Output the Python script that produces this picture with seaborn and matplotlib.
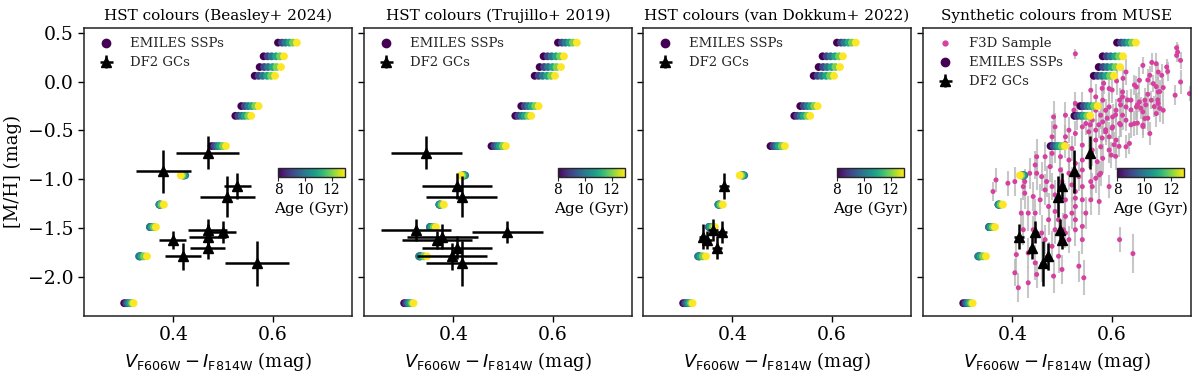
import numpy as np
import pandas as pd
import matplotlib
matplotlib.use("Agg")
import matplotlib.pyplot as plt
import seaborn as sns
from matplotlib.lines import Line2D
from matplotlib.colors import Normalize
from matplotlib.cm import ScalarMappable

sns.set_style("ticks")
plt.rcParams["font.family"] = ["DejaVu Serif"]
plt.rcParams["mathtext.fontset"] = "dejavusans"

# ---------------- data ----------------
panel_titles = ["HST colours (Beasley+ 2024)", "HST colours (Trujillo+ 2019)",
                "HST colours (van Dokkum+ 2022)", "Synthetic colours from MUSE"]

ssp_ages = [8, 9, 10, 11, 12, 13]
ssp_mh = [0.40, 0.26, 0.15, 0.06, -0.25, -0.35, -0.66, -0.96, -1.26, -1.49, -1.79, -2.27]
ssp_colour = [
    [0.611, 0.619, 0.626, 0.634, 0.641, 0.649],
    [0.582, 0.590, 0.598, 0.607, 0.615, 0.623],
    [0.574, 0.583, 0.591, 0.600, 0.608, 0.617],
    [0.564, 0.572, 0.580, 0.589, 0.597, 0.605],
    [0.537, 0.544, 0.551, 0.558, 0.565, 0.572],
    [0.525, 0.531, 0.538, 0.544, 0.551, 0.557],
    [0.477, 0.483, 0.489, 0.494, 0.500, 0.506],
    [0.420, 0.422, 0.424, 0.421, 0.418, 0.415],
    [0.373, 0.372, 0.372, 0.374, 0.377, 0.381],
    [0.354, 0.353, 0.353, 0.357, 0.361, 0.365],
    [0.333, 0.332, 0.331, 0.336, 0.341, 0.347],
    [0.301, 0.305, 0.309, 0.313, 0.317, 0.320],
]

gc_mh = [-0.73, -0.92, -1.07, -1.18, -1.52, -1.54, -1.59, -1.62, -1.70, -1.79, -1.86]
gc_mh_err = [0.17, 0.22, 0.13, 0.21, 0.11, 0.11, 0.13, 0.09, 0.12, 0.14, 0.23]

nan = np.nan
beasley_col = [0.469, 0.380, 0.529, 0.509, 0.469, 0.500, 0.469, 0.399, 0.469, 0.420, 0.569]
beasley_err = [0.064, 0.056, 0.027, 0.056, 0.039, 0.027, 0.037, 0.027, 0.036, 0.036, 0.064]
trujillo_col = [0.346, nan, 0.407, 0.417, 0.325, 0.509, 0.378, 0.367, 0.407, 0.397, 0.417]
trujillo_err = [0.071, nan, 0.071, 0.071, 0.071, 0.071, 0.071, 0.071, 0.071, 0.071, 0.071]
vandokkum_col = [nan, nan, 0.384, nan, 0.361, 0.380, 0.342, 0.350, 0.369, nan, nan]
vandokkum_err = [nan, nan, 0.010, nan, 0.010, 0.010, 0.010, 0.010, 0.010, nan, nan]
muse_col = [0.557, 0.525, 0.501, 0.492, 0.497, 0.446, 0.414, 0.500, 0.439, 0.471, 0.461]
muse_err = [0.005, 0.005, 0.005, 0.005, 0.005, 0.005, 0.010, 0.005, 0.005, 0.005, 0.005]

f3d_col = [
    0.527, 0.731, 0.733, 0.731, 0.739, 0.711, 0.713, 0.739, 0.728, 0.757,
    0.690, 0.663, 0.629, 0.677, 0.694, 0.701, 0.656, 0.684, 0.650, 0.595,
    0.622, 0.704, 0.694, 0.673, 0.667, 0.680, 0.694, 0.704, 0.656, 0.639,
    0.629, 0.650, 0.663, 0.622, 0.609, 0.595, 0.582, 0.568, 0.558, 0.622,
    0.616, 0.588, 0.578, 0.568, 0.541, 0.527, 0.524, 0.602, 0.582, 0.561,
    0.548, 0.541, 0.514, 0.483, 0.486, 0.507, 0.527, 0.554, 0.568, 0.588,
    0.602, 0.616, 0.629, 0.646, 0.663, 0.677, 0.690, 0.667, 0.609, 0.595,
    0.568, 0.578, 0.582, 0.599, 0.629, 0.636, 0.561, 0.541, 0.520, 0.507,
    0.486, 0.480, 0.497, 0.514, 0.527, 0.541, 0.554, 0.571, 0.595, 0.541,
    0.534, 0.514, 0.497, 0.476, 0.466, 0.449, 0.446, 0.435, 0.425, 0.405,
    0.422, 0.449, 0.459, 0.469, 0.480, 0.500, 0.520, 0.527, 0.541, 0.558,
    0.568, 0.575, 0.558, 0.575, 0.595, 0.466, 0.486, 0.507, 0.527, 0.541,
    0.520, 0.507, 0.486, 0.473, 0.456, 0.442, 0.432, 0.446, 0.473, 0.493,
    0.507, 0.527, 0.514, 0.480, 0.466, 0.459, 0.442, 0.422, 0.418, 0.391,
    0.367, 0.361, 0.425, 0.493, 0.473, 0.459, 0.446, 0.432, 0.408, 0.405,
    0.412, 0.432, 0.449, 0.483, 0.500, 0.534, 0.544, 0.541, 0.616, 0.643,
    0.541, 0.527, 0.503, 0.486, 0.548, 0.561, 0.578, 0.527, 0.507, 0.480,
    0.531, 0.681, 0.623, 0.610, 0.584, 0.601, 0.581, 0.646, 0.673, 0.690,
    0.697, 0.693, 0.697, 0.686, 0.669, 0.652, 0.632, 0.618, 0.608, 0.639,
    0.659, 0.673, 0.652, 0.639, 0.618, 0.601, 0.591, 0.574, 0.588, 0.581,
    0.605, 0.615, 0.608, 0.557, 0.663,
]
f3d_mh = [
    0.286, 0.347, 0.303, 0.269, 0.218, 0.150, 0.105, -0.003, -0.139, -0.122,
    0.184, 0.167, 0.099, 0.065, 0.099, 0.065, 0.014, -0.020, -0.054, -0.071,
    -0.105, -0.061, -0.105, -0.129, -0.190, -0.190, -0.224, -0.293, -0.207, -0.190,
    -0.259, -0.259, -0.310, -0.344, -0.293, -0.259, -0.190, -0.156, -0.088, -0.156,
    -0.190, -0.293, -0.344, -0.293, -0.259, -0.224, -0.293, -0.361, -0.412, -0.395,
    -0.429, -0.463, -0.497, -0.361, -0.463, -0.565, -0.531, -0.514, -0.497, -0.514,
    -0.463, -0.429, -0.395, -0.429, -0.446, -0.531, -0.327, -0.378, -0.599, -0.565,
    -0.599, -0.667, -0.786, -0.752, -0.667, -0.633, -0.701, -0.650, -0.684, -0.633,
    -0.667, -0.735, -0.769, -0.803, -0.837, -0.803, -0.769, -0.820, -0.701, -0.905,
    -0.973, -0.939, -0.905, -0.871, -0.769, -0.769, -0.854, -0.939, -1.024, -1.024,
    -1.075, -0.939, -0.973, -1.024, -1.075, -1.024, -1.058, -1.126, -1.075, -1.024,
    -0.990, -0.956, -1.211, -1.228, -1.075, -1.109, -1.160, -1.211, -1.279, -1.211,
    -1.347, -1.381, -1.330, -1.279, -1.211, -1.177, -1.347, -1.347, -1.415, -1.415,
    -1.551, -1.517, -1.619, -1.687, -1.619, -1.551, -1.517, -1.517, -1.347, -1.041,
    -1.007, -1.126, -1.143, -1.789, -1.789, -1.891, -1.857, -1.755, -1.772, -1.959,
    -2.112, -2.061, -1.976, -1.993, -1.925, -1.891, -2.010, -1.619, -1.619, -1.762,
    -1.483, -1.415, -1.517, -1.517, -1.347, -1.075, -0.939, -1.194, -0.344, -0.565,
    -0.361, 0.197, 0.034, 0.007, -0.017, -0.085, -0.068, -0.034, 0.017, -0.051,
    -0.102, -0.187, -0.272, -0.255, -0.238, -0.238, -0.187, -0.238, -0.340, -0.289,
    -0.272, -0.374, -0.425, -0.442, -0.442, -0.476, -0.374, -0.442, -0.493, -0.578,
    -0.646, -0.663, -0.765, -0.442, -0.459,
]
f3d_err = [
    0.05, 0.06, 0.08, 0.07, 0.09, 0.08, 0.10, 0.12, 0.10, 0.08,
    0.11, 0.09, 0.13, 0.10, 0.08, 0.12, 0.14, 0.09, 0.11, 0.13,
    0.12, 0.10, 0.15, 0.11, 0.13, 0.09, 0.12, 0.14, 0.10, 0.12,
    0.11, 0.13, 0.10, 0.15, 0.12, 0.14, 0.11, 0.13, 0.12, 0.10,
    0.13, 0.12, 0.14, 0.11, 0.15, 0.12, 0.10, 0.13, 0.12, 0.14,
    0.12, 0.15, 0.13, 0.16, 0.14, 0.12, 0.13, 0.15, 0.11, 0.13,
    0.12, 0.14, 0.11, 0.13, 0.10, 0.12, 0.14, 0.11, 0.13, 0.15,
    0.14, 0.12, 0.15, 0.13, 0.12, 0.11, 0.16, 0.14, 0.13, 0.15,
    0.17, 0.15, 0.14, 0.16, 0.13, 0.15, 0.12, 0.14, 0.13, 0.16,
    0.15, 0.17, 0.14, 0.16, 0.15, 0.18, 0.14, 0.16, 0.13, 0.15,
    0.14, 0.17, 0.15, 0.16, 0.14, 0.15, 0.18, 0.16, 0.14, 0.13,
    0.15, 0.13, 0.16, 0.14, 0.12, 0.16, 0.15, 0.17, 0.14, 0.15,
    0.16, 0.15, 0.17, 0.14, 0.16, 0.15, 0.18, 0.14, 0.16, 0.15,
    0.15, 0.17, 0.14, 0.16, 0.15, 0.18, 0.14, 0.16, 0.15, 0.13,
    0.12, 0.10, 0.16, 0.17, 0.15, 0.16, 0.18, 0.15, 0.17, 0.14,
    0.15, 0.16, 0.14, 0.17, 0.15, 0.16, 0.18, 0.15, 0.13, 0.20,
    0.16, 0.14, 0.17, 0.15, 0.16, 0.14, 0.13, 0.15, 0.14, 0.16,
    0.13, 0.10, 0.12, 0.14, 0.11, 0.13, 0.12, 0.10, 0.11, 0.13,
    0.12, 0.10, 0.14, 0.11, 0.13, 0.12, 0.10, 0.14, 0.12, 0.13,
    0.11, 0.13, 0.12, 0.14, 0.13, 0.11, 0.12, 0.14, 0.13, 0.12,
    0.13, 0.11, 0.14, 0.12, 0.12,
]

# ---------------- tables ----------------
ssp_df = pd.DataFrame(
    [{"mh": m, "age": a, "colour": ssp_colour[i][j]}
     for i, m in enumerate(ssp_mh) for j, a in enumerate(ssp_ages)]
)
f3d_df = pd.DataFrame({"colour": f3d_col, "mh": f3d_mh, "err": f3d_err})

gc_sets = [(beasley_col, beasley_err), (trujillo_col, trujillo_err),
           (vandokkum_col, vandokkum_err), (muse_col, muse_err)]

# ---------------- figure ----------------
fig = plt.figure(figsize=(12, 3.76), dpi=100)
lefts = [0.070, 0.3033, 0.5358, 0.7692]
width, bottom, height = 0.2233, 0.16, 0.7655
norm = Normalize(vmin=8, vmax=13)
cmap = plt.get_cmap("viridis")
pink = "#d6409f"

for k in range(4):
    ax = fig.add_axes([lefts[k], bottom, width, height])
    handles, labels = [], []
    if k == 3:
        ax.errorbar(f3d_df["colour"], f3d_df["mh"], yerr=f3d_df["err"], fmt="none",
                    ecolor="#b5b5b5", elinewidth=1.5, alpha=0.75, zorder=1)
        sns.scatterplot(data=f3d_df, x="colour", y="mh", color=pink, s=13,
                        edgecolor="none", linewidth=0, ax=ax, zorder=2)
        handles.append(Line2D([], [], marker="o", ls="", color=pink, ms=3.5))
        labels.append("F3D Sample")
    sns.scatterplot(data=ssp_df, x="colour", y="mh", hue="age", palette="viridis",
                    hue_norm=(8, 13), s=32, edgecolor="none", linewidth=0,
                    legend=False, ax=ax, zorder=3)
    handles.append(Line2D([], [], marker="o", ls="", color=cmap(0.0), ms=6))
    labels.append("EMILES SSPs")
    gx, gxe = gc_sets[k]
    eb = ax.errorbar(gx, gc_mh, xerr=gxe, yerr=gc_mh_err, fmt="^", color="black",
                     ms=7, elinewidth=1.8, capsize=0, zorder=4)
    handles.append(eb)
    labels.append("DF2 GCs")
    ax.legend(handles, labels, loc="upper left", frameon=False, fontsize=9.5,
              handletextpad=0.8, borderaxespad=0.3, labelspacing=0.45)

    ax.set_xlim(0.22, 0.76)
    ax.set_ylim(-2.40, 0.55)
    ax.set_xticks([0.4, 0.6])
    ax.set_yticks([-2.0, -1.5, -1.0, -0.5, 0.0, 0.5])
    ax.tick_params(labelsize=13.5, length=4, width=1, color="black", labelcolor="black")
    for s in ax.spines.values():
        s.set_color("#222222")
        s.set_linewidth(1.1)
    ax.set_title(panel_titles[k], fontsize=11, color="black", pad=6)
    ax.set_xlabel(r"$V_{\rm F606W} - I_{\rm F814W}$ (mag)", fontsize=13, color="black")
    if k == 0:
        ax.set_ylabel("[M/H] (mag)", fontsize=13, color="black")
    else:
        ax.set_ylabel("")
        ax.tick_params(labelleft=False)

    cax = ax.inset_axes([0.724, 0.484, 0.25, 0.03])
    cb = fig.colorbar(ScalarMappable(norm=norm, cmap=cmap), cax=cax,
                      orientation="horizontal", ticks=[8, 10, 12])
    cb.ax.tick_params(labelsize=10, length=3, pad=2, labelcolor="black")
    cb.set_label("Age (Gyr)", fontsize=11, color="black", labelpad=3)
    cb.outline.set_linewidth(1.0)

fig.savefig("out.png", dpi=100)
